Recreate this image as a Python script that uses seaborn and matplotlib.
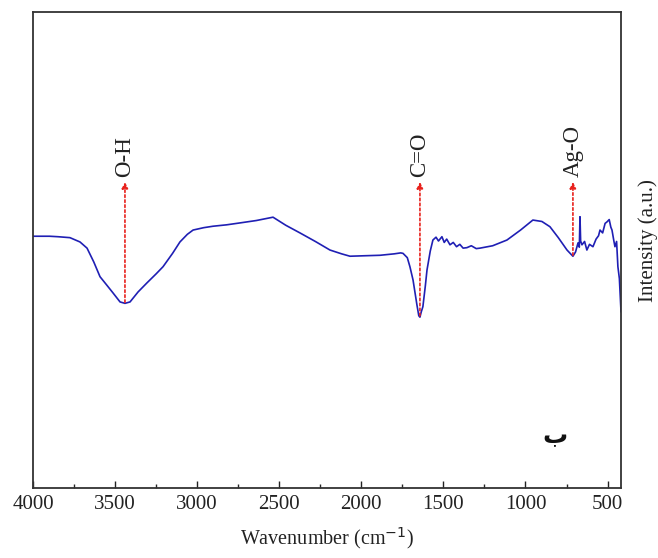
import matplotlib
matplotlib.use('Agg')
import matplotlib.pyplot as plt
import seaborn as sns
import pandas as pd

# FTIR spectrum, points
wavenumber = [4000, 3900, 3848, 3775, 3714, 3671, 3630, 3592, 3550, 3513, 3470, 3440, 3409,
              3360, 3306, 3250, 3208, 3150, 3105, 3060, 3025, 2960, 2904, 2820, 2739, 2640,
              2538, 2460, 2374, 2280, 2191, 2120, 2069, 1980, 1886, 1800, 1760, 1746, 1720,
              1704, 1685, 1661, 1650, 1643, 1635, 1625, 1610, 1600, 1580, 1564, 1545, 1530,
              1509, 1495, 1480, 1460, 1440, 1420, 1400, 1380, 1357, 1330, 1300, 1277, 1200,
              1113, 1030, 955, 900, 851, 800, 747, 725, 711, 695, 680, 672, 668, 664, 656,
              640, 626, 610, 589, 570, 555, 546, 530, 515, 504, 490, 480, 473, 462, 455,
              445, 437, 428, 418]
intensity = [52.9, 52.9, 52.8, 52.6, 51.7, 50.4, 47.5, 44.4, 42.6, 41.0, 39.1, 38.8, 39.1,
             41.2, 43.1, 45.0, 46.5, 49.3, 51.7, 53.3, 54.2, 54.7, 55.0, 55.3, 55.7, 56.2,
             56.9, 55.2, 53.6, 51.8, 50.0, 49.2, 48.7, 48.8, 48.9, 49.2, 49.4, 49.3, 48.4,
             46.5, 43.7, 38.4, 36.2, 35.9, 37.0, 38.1, 42.5, 45.8, 49.8, 52.1, 52.7, 51.9,
             52.8, 51.6, 52.3, 51.1, 51.6, 50.7, 51.2, 50.4, 50.5, 50.9, 50.3, 50.4, 50.9,
             52.1, 54.2, 56.3, 56.0, 54.9, 52.6, 50.0, 49.2, 48.7, 49.6, 51.5, 50.6, 57.0,
             51.9, 51.1, 51.8, 50.0, 51.2, 50.7, 52.3, 53.0, 54.2, 53.6, 55.6, 55.9, 56.4,
             54.8, 54.2, 52.0, 50.7, 51.8, 46.5, 44.0, 37.0]

peak_labels = ['O-H', 'C=O', 'Ag-O']
peak_pos = [3440, 1643, 711]
peak_min = [39.0, 36.2, 48.9]

df = pd.DataFrame({'wavenumber': wavenumber, 'intensity': intensity})

sns.set_style('ticks')
plt.rcParams['font.family'] = ['Liberation Serif', 'DejaVu Serif']

fig = plt.figure(figsize=(6.58, 5.58), dpi=100)
ax = fig.add_axes([0.0502, 0.1254, 0.8936, 0.8530])

sns.lineplot(data=df, x='wavenumber', y='intensity', color='#1f1fb4', linewidth=1.2,
             sort=False, estimator=None, ax=ax)

for lab, x, y in zip(peak_labels, peak_pos, peak_min):
    ax.annotate('', xy=(x, 64.3), xytext=(x, y),
                arrowprops=dict(arrowstyle='-|>', color='#e8211c', linestyle=(0, (1.5, 1.5)),
                                linewidth=1.2, mutation_scale=9, shrinkA=0, shrinkB=0))
    ax.text(x, 65.3, lab, rotation=90, ha='center', va='bottom', fontsize=16.5, color='#222222')

ax.text(818, 10.8, 'ب', ha='center', va='center', fontsize=18, fontweight='bold',
        family=['DejaVu Sans'], color='#111111')

ax.set_xlim(4000, 418)
ax.set_ylim(0, 100)
ax.set_xticks([4000, 3500, 3000, 2500, 2000, 1500, 1000, 500])
ax.set_xticks([3750, 3250, 2750, 2250, 1750, 1250, 750], minor=True)
ax.set_yticks([])
ax.tick_params(axis='x', which='major', direction='in', length=5, width=1, labelsize=15,
               pad=5, colors='#222222')
ax.tick_params(axis='x', which='minor', direction='in', length=3, width=1)
ax.set_xlabel('Wavenumber (cm$^{-1}$)', fontsize=14.5, labelpad=8, color='#222222')
ax.set_ylabel('Intensity (a.u.)', fontsize=15, color='#222222')
ax.yaxis.set_label_position('right')
ax.yaxis.set_label_coords(1.03, 0.52)
for s in ax.spines.values():
    s.set_linewidth(1.3)
    s.set_color('#333333')

fig.savefig('out.png', dpi=100)
